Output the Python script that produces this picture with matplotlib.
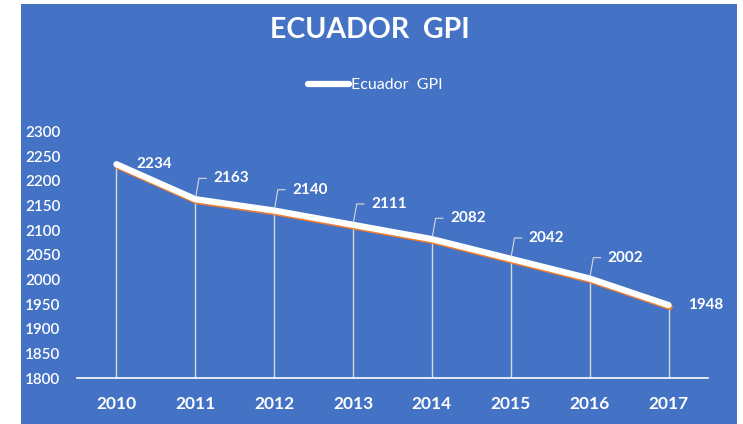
import numpy as np
import matplotlib.pyplot as plt
import matplotlib.patheffects as pe
from matplotlib.lines import Line2D

# Ecuador GPI by year
years = ["2010", "2011", "2012", "2013", "2014", "2015", "2016", "2017"]
gpi = [2234, 2163, 2140, 2111, 2082, 2042, 2002, 1948]

blue = "#4472C4"
orange = "#ED7D31"
plt.rcParams['font.family'] = ['Lato', 'DejaVu Sans']

fig = plt.figure(figsize=(7.43, 4.24), dpi=100)
fig.patch.set_facecolor("white")

# blue chart panel
panel = fig.add_axes([21 / 743, -0.01, (737 - 21) / 743, 1.0])
panel.set_facecolor(blue)
panel.set_xticks([])
panel.set_yticks([])
for s in panel.spines.values():
    s.set_visible(False)

ax = fig.add_axes([77 / 743, 1 - 378 / 424, (708 - 77) / 743, (378 - 131.7) / 424])
ax.set_facecolor("none")
x = np.arange(len(years))

# drop lines down to the axis
ax.vlines(x, 1800, gpi, color="#D9D9D9", lw=1, zorder=1)

line, = ax.plot(x, gpi, color="white", lw=4.5, solid_capstyle="round", zorder=3)
line.set_path_effects([
    pe.SimpleLineShadow(offset=(0.8, -1.3), shadow_color=orange, alpha=1.0),
    pe.Normal(),
])

ax.set_xlim(-0.5, len(years) - 0.5)
ax.set_ylim(1800, 2300)
ax.set_yticks(np.arange(1800, 2301, 50))
ax.set_xticks(x)
ax.set_xticklabels(years)
for s in ["top", "right", "left"]:
    ax.spines[s].set_visible(False)
ax.spines["bottom"].set_color("white")
ax.spines["bottom"].set_linewidth(1.2)
ax.tick_params(axis="y", length=0, pad=12, labelcolor="white", labelsize=11)
ax.tick_params(axis="x", length=0, pad=13, labelcolor="white", labelsize=12.5)
for t in ax.get_yticklabels():
    t.set_fontweight("semibold")
for t in ax.get_xticklabels():
    t.set_fontweight("bold")

# data labels; middle points get a small leader line
for i, v in enumerate(gpi):
    if i == 0 or i == len(gpi) - 1:
        ax.annotate(str(v), (i, v), xytext=(14, 0), textcoords="offset points",
                    color="white", fontsize=11, fontweight="bold",
                    ha="left", va="center")
    else:
        ax.annotate(str(v), (i, v), xytext=(13, 15), textcoords="offset points",
                    color="white", fontsize=11, fontweight="bold",
                    ha="left", va="center",
                    arrowprops=dict(arrowstyle="-", color="#D9D9D9", lw=0.8,
                                    connectionstyle="angle,angleA=0,angleB=80,rad=0",
                                    shrinkA=3, shrinkB=2))

fig.text(0.498, 1 - 30 / 424, "ECUADOR  GPI", color="white", fontsize=20.5,
         fontweight="bold", ha="center", va="center")

handle = Line2D([], [], color="white", lw=4.5, solid_capstyle="round")
fig.legend(handles=[handle], labels=["Ecuador  GPI"], loc="center",
           bbox_to_anchor=(0.505, 1 - 85 / 424), frameon=False, fontsize=11.5,
           handlelength=2.6, handletextpad=0.1, labelcolor="white")

fig.savefig("out.png", dpi=100, facecolor=fig.get_facecolor())
